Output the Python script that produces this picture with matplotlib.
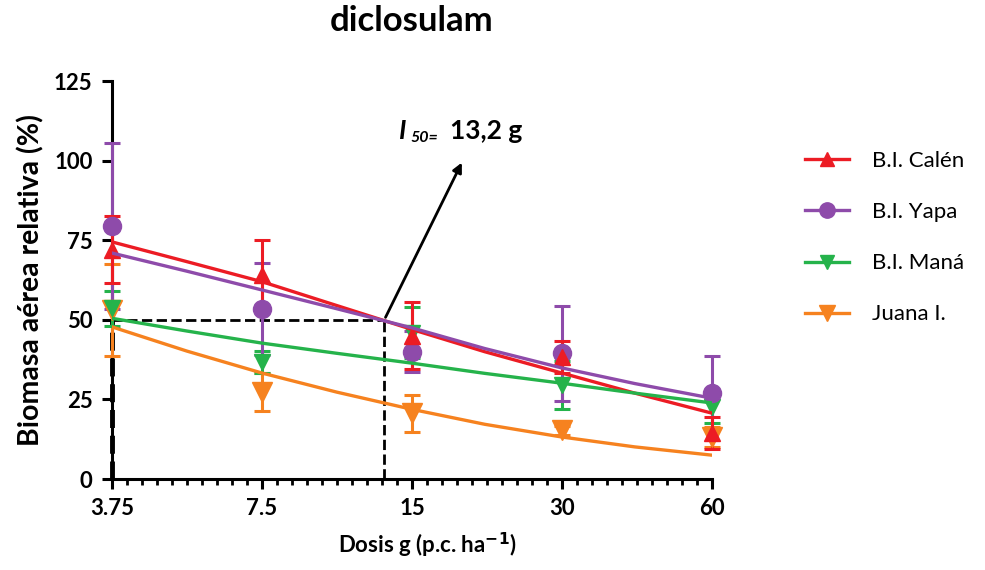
import matplotlib.pyplot as plt
from matplotlib.ticker import FixedLocator, NullFormatter

plt.rcParams['font.family'] = ['Lato', 'DejaVu Sans']

# doses (g p.c./ha)
doses = [3.75, 7.5, 15, 30, 60]

# observed means and error bars
calen_mean = [72, 64, 45, 38.3, 14.5]
calen_err = [10.5, 11, 10.5, 5, 5]
yapa_mean = [79.5, 53.4, 40, 39.5, 27]
yapa_err = [26, 14.5, 6.5, 15, 11.5]
mana_mean = [53.7, 36.7, 46, 29.5, 22.6]
mana_err = [5.5, 3.5, 8, 7.5, 5]
juana_mean = [53, 27.4, 20.7, 15.3, 13.2]
juana_err = [14.5, 6, 5.8, 1.5, 3]

# fitted curves
curve_x = [3.75, 5.3, 7.5, 10.6, 15, 21, 30, 42, 60]
calen_fit = [74.5, 68.3, 62, 54.5, 47, 40, 33.3, 27, 20.7]
yapa_fit = [71, 65.3, 59.4, 53.5, 47.5, 41, 34.9, 30, 25.4]
mana_fit = [50.5, 46.5, 42.7, 39.5, 36.4, 33.2, 30.1, 27, 23.9]
juana_fit = [47.8, 40.2, 33.3, 27.3, 21.9, 17.2, 13.2, 10.1, 7.5]

i50 = 13.2

series = [
    ('B.I. Calén', calen_mean, calen_err, calen_fit, '#EC1C24', '^', 12),
    ('B.I. Yapa', yapa_mean, yapa_err, yapa_fit, '#8E4BAA', 'o', 13),
    ('B.I. Maná', mana_mean, mana_err, mana_fit, '#25B34B', 'v', 12),
    ('Juana I.', juana_mean, juana_err, juana_fit, '#F6821F', 'v', 14),
]

fig = plt.figure(figsize=(9.85, 5.7), dpi=100)
ax = fig.add_axes([0.1137, 0.1596, 0.609, 0.698])

# dashed I50 guide lines
ax.plot([3.75, i50], [50, 50], ls='--', color='black', lw=2, zorder=1)
ax.plot([i50, i50], [0, 50], ls='--', color='black', lw=2, zorder=1)
ax.plot([3.75, 3.75], [0, 50], ls='--', color='black', lw=3.5, zorder=1, clip_on=False)

handles = []
for name, mean, err, fit, col, mk, ms in series[::-1]:
    ax.errorbar(doses, mean, yerr=err, fmt=mk, color=col, ms=ms,
                elinewidth=2.2, capsize=6, capthick=2.2, zorder=3, clip_on=False)
for name, mean, err, fit, col, mk, ms in series:
    ax.plot(curve_x, fit, color=col, lw=2.4, zorder=4)
    h, = ax.plot([], [], color=col, lw=2.4, marker=mk, ms=ms * 0.85)
    handles.append(h)

ax.set_xscale('log', base=2)
ax.set_xlim(3.75, 60)
ax.set_ylim(0, 125)
ax.xaxis.set_major_locator(FixedLocator(doses))
ax.set_xticklabels(['3.75', '7.5', '15', '30', '60'])
minor = [3.75 * 2 ** (k / 10) for k in range(1, 40) if k % 10 != 0]
ax.xaxis.set_minor_locator(FixedLocator(minor))
ax.xaxis.set_minor_formatter(NullFormatter())
ax.set_yticks([0, 25, 50, 75, 100, 125])

for s in ['top', 'right']:
    ax.spines[s].set_visible(False)
for s in ['left', 'bottom']:
    ax.spines[s].set_linewidth(2.2)
ax.tick_params(which='major', length=7, width=2.2, labelsize=16, pad=7)
ax.tick_params(which='minor', length=4, width=2)
for lab in ax.get_xticklabels() + ax.get_yticklabels():
    lab.set_fontweight('bold')

ax.set_xlabel('Dosis g (p.c. ha$^{\\mathbf{-1}}$)', fontsize=16, fontweight='bold', labelpad=11)
ax.xaxis.set_label_coords(0.525, -0.13)
ax.set_ylabel('Biomasa aérea relativa (%)', fontsize=20.5, fontweight='bold', labelpad=7)
ax.set_title('diclosulam', fontsize=25, fontweight='bold', pad=36)

# arrow and I50 label
ax.annotate('', xy=(19.0, 100.2), xytext=(i50, 50),
            arrowprops=dict(arrowstyle='-|>', color='black', lw=2, mutation_scale=14))
ax.text(14.1, 109.5, 'I', fontsize=19, fontweight='bold', fontstyle='italic', va='center')
ax.text(14.9, 107.0, '50=', fontsize=11.5, fontweight='bold', fontstyle='italic', va='center')
ax.text(17.9, 109.5, '13,2 g', fontsize=19, fontweight='bold', va='center')

fig.legend(handles, [s[0] for s in series], loc='upper left', bbox_to_anchor=(0.797, 0.77),
           frameon=False, fontsize=16, handlelength=2.0, labelspacing=1.4, handletextpad=1.0)

fig.savefig('out.png', dpi=100)
